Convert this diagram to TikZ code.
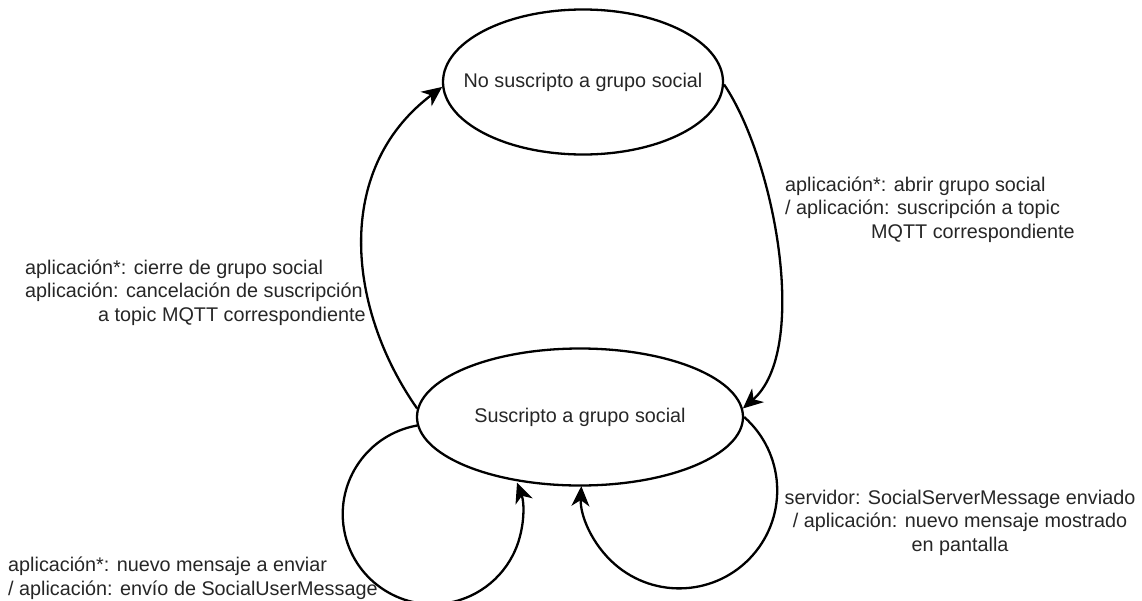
\documentclass[tikz,border=0pt]{standalone}
\usepackage{fontspec}
\setmainfont{Liberation Sans}
\usetikzlibrary{arrows.meta,shapes.geometric}
\newcommand{\lblfont}{\fontsize{19.8}{23.5}\selectfont}
\begin{document}
\begin{tikzpicture}[x=1pt,y=-1pt,
  state/.style={ellipse,draw,line width=2.3pt,inner sep=0pt},
  lbl/.style={inner sep=0pt,font=\lblfont,text=black!85},
  trans/.style={draw,line width=2.3pt,-{Stealth[length=20pt,width=18pt,inset=6pt]}}]
\useasboundingbox (0,0) rectangle (1142,600);

% states
\node[state,minimum width=280pt,minimum height=145pt,
      label={[lbl]center:No suscripto a grupo social}] (top) at (583,82) {};
\node[state,minimum width=326pt,minimum height=137pt,
      label={[lbl]center:Suscripto a grupo social}] (bot) at (580,417) {};

% transitions between the two states
\draw[trans] (bot.177) .. controls (348,310) and (332,170) .. (top.182);
\draw[trans] (top.359) .. controls (775,160) and (810,350) .. (bot.3);

% self loops on the subscribed state
\draw[trans] (bot.183) arc[start angle=-100,end angle=-380.5,radius=90];
\draw[trans] (bot.east) arc[start angle=-48.5,end angle=182.5,radius=98];

% transition labels (anchored at the baseline of their last line)
\node[lbl,anchor=base west,align=left] (l1) at (25,321)
  {aplicación*: cierre de grupo social\\
   aplicación: cancelación de suscripción\\
   \hspace*{73pt}a topic MQTT correspondiente};
\node[lbl,anchor=base west,align=left] (l2) at (785,238)
  {aplicación*: abrir grupo social\\
   / aplicación: suscripción a topic\\
   \hspace*{86pt}MQTT correspondiente};
\node[lbl,anchor=base,align=center] (l3) at (960,551)
  {servidor: SocialServerMessage enviado\\
   / aplicación: nuevo mensaje mostrado\\
   en pantalla};
\node[lbl,anchor=base west,align=left] (l4) at (8,595)
  {aplicación*: nuevo mensaje a enviar\\
   / aplicación: envío de SocialUserMessage};
\end{tikzpicture}
\end{document}
